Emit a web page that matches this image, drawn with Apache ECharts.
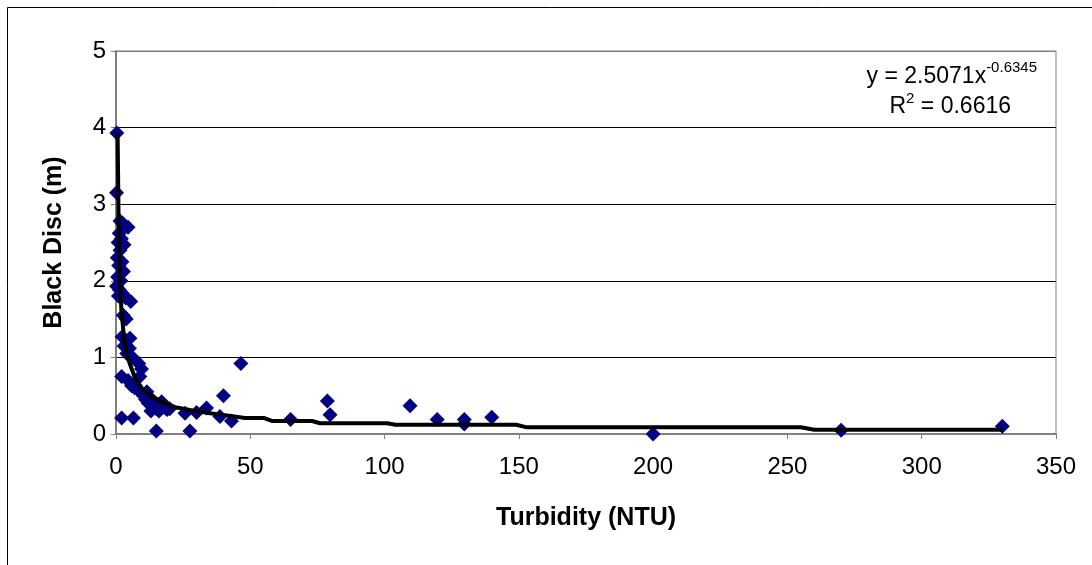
<!DOCTYPE html>
<html>
<head>
<meta charset="utf-8">
<script src="https://cdn.jsdelivr.net/npm/echarts@6/dist/echarts.min.js"></script>
<style>
  html, body { margin: 0; padding: 0; background: #fff; }
  #chart { width: 1092px; height: 565px; }
</style>
</head>
<body>
<div id="chart"></div>
<script>
// measured points: [turbidity NTU, black disc m]
const observations = [
  [0.3, 3.93], [0.2, 3.15], [1.5, 2.78], [2.5, 2.75], [4.5, 2.7], [1.2, 2.62],
  [2.0, 2.55], [0.8, 2.5], [3.0, 2.47], [1.5, 2.4], [0.5, 2.3], [2.2, 2.25],
  [1.0, 2.2], [2.8, 2.12], [0.6, 2.05], [1.8, 2.0], [0.2, 1.93], [1.3, 1.88],
  [2.5, 1.83], [0.9, 1.8], [3.5, 1.78], [5.5, 1.73], [2.7, 1.55], [3.8, 1.5],
  [2.3, 1.27], [5.2, 1.25], [3.0, 1.15], [5.0, 1.12], [4.0, 1.05], [6.2, 1.0],
  [2.1, 0.75], [8.5, 0.92], [9.5, 0.85], [4.5, 0.7], [5.8, 0.63], [7.0, 0.6],
  [8.9, 0.75], [10.2, 0.5], [11, 0.45], [12, 0.4], [13.9, 0.36], [15, 0.33],
  [17, 0.42], [18, 0.35], [19, 0.32], [11.5, 0.55], [12.5, 0.48], [14, 0.42],
  [16, 0.3], [20, 0.33], [9, 0.55], [13, 0.3], [2.1, 0.21], [6.5, 0.21],
  [15, 0.04], [27.5, 0.04], [25.7, 0.27], [30, 0.28], [33.7, 0.34], [38.7, 0.23],
  [43, 0.17], [40, 0.5], [46.5, 0.92], [65, 0.19], [78.7, 0.43], [79.7, 0.25],
  [109.5, 0.37], [119.6, 0.19], [129.7, 0.19], [129.7, 0.13], [139.9, 0.22],
  [200, 0], [270, 0.05], [330, 0.1]
];

// power trendline as drawn
const trendline = [
  [0.6, 3.92], [1, 2.7], [1.5, 2.0], [2, 1.62], [3, 1.25], [4, 1.05], [5, 0.93],
  [7, 0.74], [10, 0.58], [13, 0.5], [17, 0.42], [22, 0.35], [28, 0.31], [35, 0.27],
  [42, 0.24], [48, 0.21], [55, 0.21], [58, 0.17], [73, 0.17], [76, 0.14],
  [101, 0.14], [104, 0.12], [149, 0.12], [153, 0.087], [255, 0.087], [260, 0.055],
  [330, 0.055]
];

const xTicks = { min: 0, max: 350, step: 50 };
const yTicks = { min: 0, max: 5, step: 1 };

const font = 'Liberation Sans, Arial, sans-serif';

// widths for placing the equation pieces next to each other
const ctx = document.createElement('canvas').getContext('2d');
function textWidth(s, size) {
  ctx.font = size + 'px ' + font;
  return ctx.measureText(s).width;
}
const big = 23, small = 15;
const eqMain = 'y = 2.5071x', eqSup = '-0.6345';
const eqX = 1037 - textWidth(eqMain, big) - textWidth(eqSup, small);
const r2X = 1011 - textWidth('R', big) - textWidth('2', small) - textWidth(' = 0.6616', big);

const chart = echarts.init(document.getElementById('chart'));

chart.setOption({
  animation: false,
  backgroundColor: '#fff',
  grid: {
    left: 116, right: 36, top: 51, bottom: 131,
    show: true, borderColor: '#808080', borderWidth: 1, backgroundColor: '#fff'
  },
  xAxis: {
    type: 'value',
    min: xTicks.min, max: xTicks.max, interval: xTicks.step,
    name: 'Turbidity (NTU)',
    nameLocation: 'middle',
    nameGap: 72,
    nameTextStyle: { fontFamily: font, fontWeight: 'bold', fontSize: 25, color: '#000' },
    axisLine: { lineStyle: { color: '#808080', width: 2 } },
    axisTick: { show: true, length: 5, lineStyle: { color: '#808080' } },
    axisLabel: { fontFamily: font, fontSize: 24, color: '#000', margin: 21 },
    splitLine: { show: false }
  },
  yAxis: {
    type: 'value',
    min: yTicks.min, max: yTicks.max, interval: yTicks.step,
    name: 'Black Disc (m)',
    nameLocation: 'middle',
    nameGap: 49,
    nameTextStyle: { fontFamily: font, fontWeight: 'bold', fontSize: 25, color: '#000' },
    axisLine: { show: true, lineStyle: { color: '#808080', width: 2 } },
    axisTick: { show: true, length: 5, lineStyle: { color: '#808080' } },
    axisLabel: { fontFamily: font, fontSize: 24, color: '#000', margin: 10 },
    splitLine: { show: true, lineStyle: { color: ['#000', '#000', '#000', '#000', '#000', '#808080'], width: 1 } }
  },
  series: [
    {
      type: 'scatter',
      data: observations,
      symbol: 'diamond',
      symbolSize: [15, 15],
      itemStyle: { color: '#000080', opacity: 1 },
      clip: false,
      z: 2
    },
    {
      type: 'line',
      data: trendline,
      showSymbol: false,
      smooth: false,
      lineStyle: { color: '#000', width: 4 },
      z: 3
    }
  ],
  graphic: [
    {
      type: 'rect', left: 5, top: 5, silent: true,
      shape: { width: 1200, height: 700 },
      style: { fill: 'none', stroke: '#000', lineWidth: 1 }
    },
    {
      type: 'text', x: eqX, y: 77, silent: true,
      style: { text: eqMain, font: big + 'px ' + font, fill: '#000', textAlign: 'left', textVerticalAlign: 'middle' }
    },
    {
      type: 'text', x: eqX + textWidth(eqMain, big), y: 68, silent: true,
      style: { text: eqSup, font: small + 'px ' + font, fill: '#000', textAlign: 'left', textVerticalAlign: 'middle' }
    },
    {
      type: 'text', x: r2X, y: 107, silent: true,
      style: { text: 'R', font: big + 'px ' + font, fill: '#000', textAlign: 'left', textVerticalAlign: 'middle' }
    },
    {
      type: 'text', x: r2X + textWidth('R', big), y: 99, silent: true,
      style: { text: '2', font: small + 'px ' + font, fill: '#000', textAlign: 'left', textVerticalAlign: 'middle' }
    },
    {
      type: 'text', x: r2X + textWidth('R', big) + textWidth('2', small), y: 107, silent: true,
      style: { text: ' = 0.6616', font: big + 'px ' + font, fill: '#000', textAlign: 'left', textVerticalAlign: 'middle' }
    }
  ]
});
</script>
</body>
</html>
